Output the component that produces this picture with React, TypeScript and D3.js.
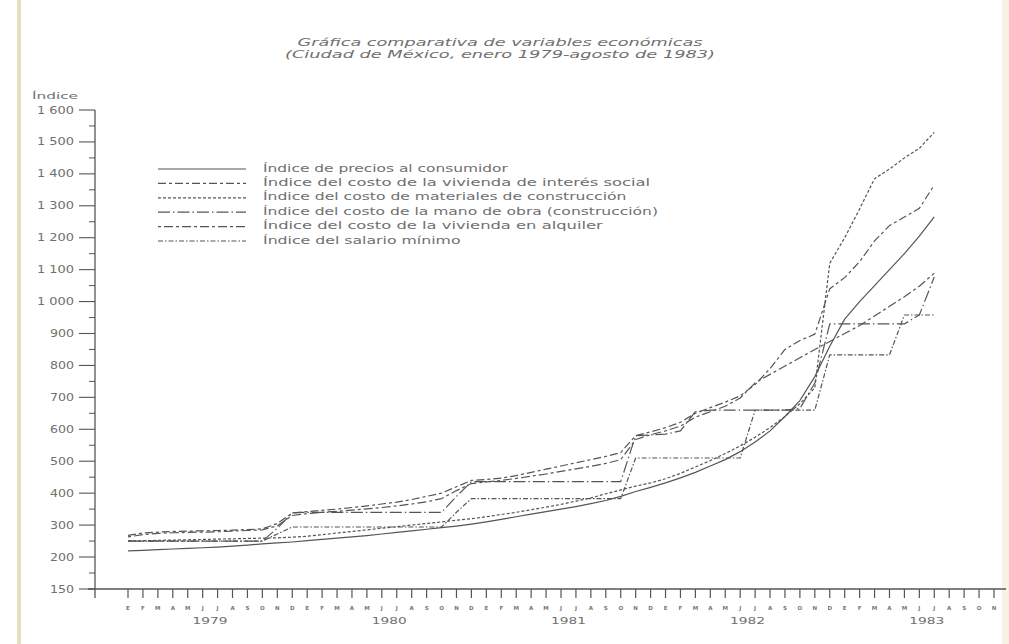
import * as d3 from "d3";
import { useEffect, useRef } from "react";

// month index 0 = enero 1979, last point = julio 1983
const monthLetters = ["E", "F", "M", "A", "M", "J", "J", "A", "S", "O", "N", "D"];
const years = [1979, 1980, 1981, 1982, 1983];
const yTicks = [150, 200, 300, 400, 500, 600, 700, 800, 900, 1000, 1100, 1200, 1300, 1400, 1500, 1600];
const yMinor = [175, 250, 350, 450, 550, 650, 750, 850, 950, 1050, 1150, 1250, 1350, 1450, 1550];

const precios = [
  219, 221, 223, 225, 227, 229, 231, 234, 237, 241, 244, 247,
  251, 255, 259, 263, 267, 272, 277, 282, 287, 292, 297, 303,
  310, 318, 326, 334, 342, 350, 358, 367, 377, 390, 405, 418,
  432, 448, 465, 485, 505, 530, 560, 595, 640, 690, 765, 860,
  945, 1000, 1050, 1100, 1150, 1205, 1265,
];
const interesSocial = [
  268, 275, 278, 280, 281, 282, 283, 284, 286, 288, 305, 338,
  342, 346, 350, 355, 360, 366, 372, 380, 390, 400, 420, 440,
  443, 447, 455, 465, 475, 485, 495, 505, 515, 527, 580, 592,
  605, 622, 650, 668, 685, 705, 740, 790, 850, 878, 898, 1040,
  1075, 1125, 1190, 1238, 1265, 1292, 1365,
];
const materiales = [
  250, 251, 252, 253, 254, 255, 256, 257, 258, 259, 260, 262,
  265, 270, 275, 280, 285, 290, 295, 300, 305, 310, 315, 320,
  326, 333, 340, 348, 356, 365, 375, 385, 398, 410, 422, 432,
  445, 462, 482, 502, 524, 548, 575, 605, 640, 680, 730, 1120,
  1200, 1290, 1385, 1415, 1450, 1480, 1530,
];
const manoObra = [
  250, 250, 250, 250, 250, 250, 250, 250, 250, 250, 290, 338,
  340, 340, 340, 340, 340, 340, 340, 340, 340, 340, 390, 436,
  436, 436, 436, 436, 436, 436, 436, 436, 436, 436, 580, 582,
  585, 595, 655, 660, 660, 660, 660, 660, 660, 665, 745, 930,
  930, 930, 930, 930, 930, 958, 1077,
];
const alquiler = [
  263, 270, 274, 276, 277, 278, 279, 281, 283, 285, 298, 330,
  336, 340, 343, 347, 351, 355, 360, 366, 373, 383, 408, 430,
  435, 440, 446, 453, 460, 468, 476, 484, 493, 505, 568, 583,
  595, 610, 638, 655, 672, 698, 745, 772, 798, 824, 850, 875,
  900, 925, 955, 985, 1015, 1048, 1089,
];
const salarioMinimo = [
  250, 250, 250, 250, 250, 250, 250, 250, 250, 250, 272, 294,
  294, 294, 294, 294, 294, 294, 294, 294, 294, 294, 340, 383,
  383, 383, 383, 383, 383, 383, 383, 383, 383, 383, 510, 510,
  510, 510, 510, 510, 510, 510, 660, 660, 660, 660, 660, 833,
  833, 833, 833, 833, 958, 958, 958,
];

const series = [
  { name: "Índice de precios al consumidor", values: precios, dash: "" },
  { name: "Índice del costo de la vivienda de interés social", values: interesSocial, dash: "8,3,3,3" },
  { name: "Índice del costo de materiales de construcción", values: materiales, dash: "3,2" },
  { name: "Índice del costo de la mano de obra (construcción)", values: manoObra, dash: "12,3,1.5,3" },
  { name: "Índice del costo de la vivienda en alquiler", values: alquiler, dash: "3,3,9,3" },
  { name: "Índice del salario mínimo", values: salarioMinimo, dash: "5,2,1.5,2" },
];

const INK = "#555";
const TEXT = "#707070";
const FONT = "'DejaVu Sans', 'Open Sans', sans-serif";

export default function App() {
  const ref = useRef<SVGSVGElement | null>(null);

  useEffect(() => {
    const svg = d3.select(ref.current);
    svg.selectAll("*").remove();

    const x = d3.scaleLinear().domain([0, 58]).range([128, 994]);
    // broken axis: 150 sits one full step below 200
    const y = d3.scaleLinear().domain([150, 200, 1600]).range([589, 557, 110]);
    const fmt = d3
      .formatLocale({ decimal: ",", thousands: " ", grouping: [3], currency: ["", ""] })
      .format(",");

    // paper edges
    svg.append("rect").attr("x", 17).attr("y", 0).attr("width", 4).attr("height", 644).attr("fill", "#eadcc0");
    svg.append("rect").attr("x", 1002).attr("y", 0).attr("width", 7).attr("height", 644).attr("fill", "#f8f1e4");

    // title
    const title = svg.append("g").attr("fill", TEXT).attr("font-family", FONT).attr("font-style", "italic").attr("font-size", 10).attr("text-anchor", "middle");
    title.append("text").attr("x", 500).attr("y", 46).attr("textLength", 405).attr("lengthAdjust", "spacingAndGlyphs").text("Gráfica comparativa de variables económicas");
    title.append("text").attr("x", 500).attr("y", 57.5).attr("textLength", 430).attr("lengthAdjust", "spacingAndGlyphs").text("(Ciudad de México, enero 1979-agosto de 1983)");

    // y axis
    const ax = 95;
    svg.append("line").attr("x1", ax).attr("x2", ax).attr("y1", y(1600)).attr("y2", 598).attr("stroke", INK).attr("stroke-width", 1.3);
    svg.append("text").attr("x", 32).attr("y", 99).attr("fill", TEXT).attr("font-family", FONT).attr("font-size", 9).attr("textLength", 46).attr("lengthAdjust", "spacingAndGlyphs").text("Índice");

    const yt = svg.append("g");
    yTicks.forEach((t) => {
      yt.append("line").attr("x1", ax - 16).attr("x2", ax).attr("y1", y(t)).attr("y2", y(t)).attr("stroke", INK).attr("stroke-width", 1.1);
      const label = fmt(t);
      yt.append("text").attr("x", ax - 21).attr("y", y(t) + 3.5).attr("text-anchor", "end").attr("fill", TEXT).attr("font-family", FONT).attr("font-size", 10)
        .attr("textLength", label.length * 8 - (label.includes(" ") ? 3 : 0)).attr("lengthAdjust", "spacingAndGlyphs").text(label);
    });
    yMinor.forEach((t) => {
      yt.append("line").attr("x1", ax - 6).attr("x2", ax).attr("y1", y(t)).attr("y2", y(t)).attr("stroke", INK).attr("stroke-width", 1);
    });

    // x axis
    svg.append("line").attr("x1", 88).attr("x2", 1006).attr("y1", y(150)).attr("y2", y(150)).attr("stroke", INK).attr("stroke-width", 1.3);
    const xt = svg.append("g");
    d3.range(0, 59).forEach((i) => {
      xt.append("line").attr("x1", x(i)).attr("x2", x(i)).attr("y1", y(150)).attr("y2", y(150) + 9).attr("stroke", INK).attr("stroke-width", 1.2);
      xt.append("text").attr("x", x(i)).attr("y", 609.5).attr("text-anchor", "middle").attr("fill", "#777").attr("font-family", FONT).attr("font-size", 5.5).attr("font-weight", "bold")
        .text(monthLetters[i % 12]);
    });
    years.forEach((yr, k) => {
      xt.append("text").attr("x", x(k * 12 + 5.5)).attr("y", 624).attr("text-anchor", "middle").attr("fill", TEXT).attr("font-family", FONT).attr("font-size", 9.5)
        .attr("textLength", 35).attr("lengthAdjust", "spacingAndGlyphs").text(yr);
    });

    // lines
    const line = d3.line<number>().x((_, i) => x(i)).y((d) => y(d));
    series.forEach((s) => {
      svg.append("path").attr("d", line(s.values)).attr("fill", "none").attr("stroke", INK).attr("stroke-width", 1.2)
        .attr("stroke-dasharray", s.dash || null).attr("stroke-linejoin", "round");
    });

    // legend
    const lg = svg.append("g");
    series.forEach((s, k) => {
      const ry = 168 + k * 14.4;
      lg.append("line").attr("x1", 158).attr("x2", 246).attr("y1", ry + 1).attr("y2", ry + 1).attr("stroke", INK).attr("stroke-width", 1.2)
        .attr("stroke-dasharray", s.dash || null);
      lg.append("text").attr("x", 263).attr("y", ry + 3.5).attr("fill", TEXT).attr("font-family", FONT).attr("font-size", 10)
        .attr("textLength", s.name.length * 7.9).attr("lengthAdjust", "spacingAndGlyphs").text(s.name);
    });
  }, []);

  return <svg ref={ref} width={1009} height={644} style={{ position: "absolute", left: 0, top: 0, background: "#fff" }} />;
}
